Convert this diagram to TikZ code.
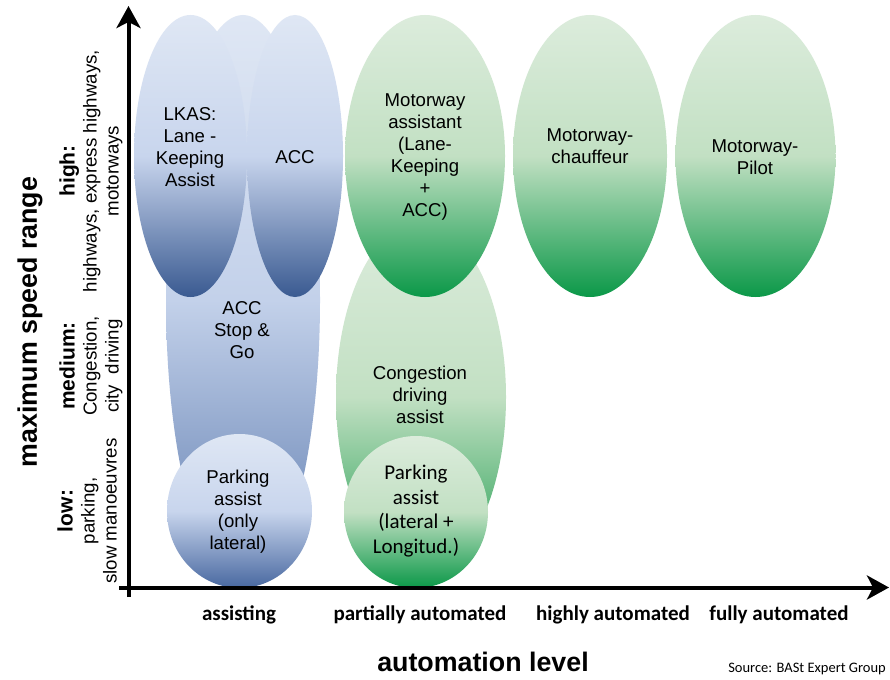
\documentclass[tikz,border=0pt]{standalone}
\usepackage{fontspec}
\setmainfont{Liberation Sans}
\newfontfamily\calib{Carlito}
\usetikzlibrary{shapes.geometric, arrows.meta}

\definecolor{bluetop}{HTML}{DFE7F4}
\definecolor{bluemid}{HTML}{C8D5ED}
\definecolor{bluebot}{HTML}{3A5A91}
\definecolor{backmid}{HTML}{C3D1EA}
\definecolor{backbot}{HTML}{5D7BAE}
\definecolor{parkbot}{HTML}{4868A0}
\definecolor{greentop}{HTML}{DCECDC}
\definecolor{greenmid}{HTML}{C2E0C3}
\definecolor{greenbot}{HTML}{0B9848}
\definecolor{congbot}{HTML}{1E9C4E}

\begin{document}
\begin{tikzpicture}[
    x=1pt, y=-1pt,
    blob/.style={ellipse, inner sep=0pt, draw=none},
    blueblob/.style={blob, top color=bluetop, bottom color=bluebot, middle color=bluemid},
    backblob/.style={blob, top color=bluetop, bottom color=backbot, middle color=backmid},
    parkblob/.style={blob, top color=bluetop, bottom color=parkbot, middle color=bluemid},
    greenblob/.style={blob, top color=greentop, bottom color=greenbot, middle color=greenmid},
    congblob/.style={blob, top color=greentop, bottom color=congbot, middle color=greenmid},
    tag/.style={font=\fontsize{18.6}{22}\selectfont, align=center, text=black},
    ctag/.style={font=\calib\fontsize{21}{24.5}\selectfont, align=center, text=black},
    levellabel/.style={font=\calib\bfseries\fontsize{21}{24}\selectfont, anchor=base},
    rangelabel/.style={font=\fontsize{18.7}{22}\selectfont, align=center, rotate=90},
    axistitle/.style={font=\bfseries\fontsize{26.8}{30}\selectfont},
    axis/.style={line width=4pt, -{Stealth[length=22pt, width=24pt, inset=6pt]}},
]
\useasboundingbox[fill=white] (0,0) rectangle (890,679);

% ===== BACK SHAPES =====
\node[backblob, minimum width=154, minimum height=570] (accsg) at (243, 300) {};
\node[congblob, minimum width=170, minimum height=350] (congest) at (421, 397) {};

% ===== HIGH SPEED FUNCTIONS =====
\node[blueblob, minimum width=113, minimum height=282] (lkas) at (190.5, 156) {};
\node[blueblob, minimum width=96, minimum height=282] (acc) at (295, 156) {};
\node[greenblob, minimum width=160, minimum height=282] (mwassist) at (425, 156) {};
\node[greenblob, minimum width=154, minimum height=282] (mwchauf) at (590, 156) {};
\node[greenblob, minimum width=160, minimum height=282] (mwpilot) at (755.5, 156) {};

% ===== PARKING =====
\node[parkblob, minimum width=145, minimum height=154] (parkblue) at (239.5, 511) {};
\node[greenblob, minimum width=144, minimum height=152] (parkgreen) at (416, 512) {};

% ===== TEXTS IN SHAPES =====
\node[tag] (lkastxt) at (190, 147) {LKAS:\\Lane -\\Keeping\\Assist};
\node[tag] (acctxt) at (295, 157) {ACC};
\node[tag] (accsgtxt) at (242, 330) {ACC\\Stop \&\\Go};
\node[tag] (parkbluetxt) at (238, 512) {Parking\\assist\\(only\\lateral)};
\node[tag] (mwassisttxt) at (425, 157) {Motorway\\assistant\\(Lane-\\Keeping\\+\\ACC)};
\node[tag] (mwchauftxt) at (590, 146) {Motorway-\\chauffeur};
\node[tag] (mwpilottxt) at (755, 157) {Motorway-\\Pilot};
\node[tag] (congesttxt) at (420, 395) {Congestion\\driving\\assist};
\node[ctag] (parkgreentxt) at (416, 511) {Parking\\assist\\(lateral +\\Longitud.)};

% ===== AXES =====
\coordinate (yfoot) at (128.5, 597);
\coordinate (ytip) at (128.5, 6);
\coordinate (xfoot) at (119, 587.5);
\coordinate (xtip) at (889, 587.5);
\draw[axis] (yfoot) -- (ytip);
\draw[axis] (xfoot) -- (xtip);

% ===== AXIS LABELS =====
\node[levellabel] (assisting) at (239, 620) {assisting};
\node[levellabel] (partial) at (420, 620) {partially automated};
\node[levellabel] (highly) at (613, 620) {highly automated};
\node[levellabel] (fully) at (779, 620) {fully automated};
\node[axistitle, anchor=base] (xtitle) at (483, 671) {automation level};
\node[font=\calib\fontsize{14.5}{16}\selectfont, anchor=base east, inner sep=1pt] (source) at (887, 672)
  {Source: BASt Expert Group};

\node[axistitle, rotate=90] (ytitle) at (30, 322) {maximum speed range};
\node[rangelabel] (high) at (91, 171)
  {{\bfseries\fontsize{21}{22}\selectfont high:}\\highways, express highways,\\motorways};
\node[rangelabel] (medium) at (91, 366)
  {{\bfseries\fontsize{21}{22}\selectfont medium:}\\Congestion,\\city~~driving};
\node[rangelabel] (low) at (87, 511)
  {{\bfseries\fontsize{21}{22}\selectfont low:}\\parking,\\slow manoeuvres};

\end{tikzpicture}
\end{document}
